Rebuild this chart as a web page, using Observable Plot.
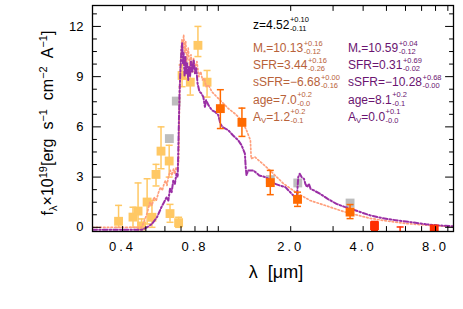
<!DOCTYPE html>
<html><head><meta charset="utf-8">
<script src="https://cdn.jsdelivr.net/npm/d3@7"></script>
<script src="https://cdn.jsdelivr.net/npm/@observablehq/plot@0.6"></script>
<style>body{margin:0;background:#fff} #chart svg{display:block}</style>
</head><body><div id="chart"></div><script>
// ---- axis ticks ----
const xTickValues = [0.3,0.4,0.5,0.6,0.7,0.8,0.9,1,2,3,4,5,6,7,8,9];
const xTickLabels = [0.4,0.8,2,4,8];
const yMajor = [0,3,6,9,12];
const yMinor = [0.75,1.5,2.25,3.75,4.5,5.25,6.75,7.5,8.25,9.75,10.5,11.25,12.75];

// ---- photometry ----
const yellowWave = [0.385,0.442,0.464,0.48,0.506,0.53,0.551,0.578,0.625,0.63,0.684,0.707,0.765,0.823,0.898];
const yellowFlux = [0.36,0.61,0.97,0.08,1.51,0.6,3.16,4.55,3.96,0.82,0.28,9.07,8.67,10.87,8.67];
const yellowLo   = [0.0,0.0,0.0,0.0,0.2,0.0,2.47,3.5,3.0,0.3,0.0,8.4,7.9,10.2,7.78];
const yellowHi   = [1.31,1.2,2.65,0.5,2.9,1.6,3.76,6.0,4.9,1.37,0.6,9.7,9.3,12.0,9.37];
const grayWave = [0.626,0.669,1.645,2.14,3.53];
const grayFlux = [5.3,7.54,2.85,2.65,1.45];
const orangeWave = [1.02,1.254,1.645,2.135,3.53];
const orangeFlux = [7.09,6.27,2.67,1.67,0.91];
const orangeLo   = [5.9,5.43,1.95,1.25,0.52];
const orangeHi   = [8.22,7.12,3.4,2.1,1.36];
const redWave = [4.46,5.7,7.9];
const redFlux = [0.1,-0.7,-0.1];
const redLo   = [-0.2,-1.2,-0.3];
const redHi   = [0.35,0.02,0.1];

// ---- model spectra ----
const salmonWave = [0.30,0.48,0.49,0.505,0.52,0.53,0.54,0.552,0.565,0.575,0.585,0.595,0.603,0.612,0.62,0.632,0.642,0.652,0.66,0.668,0.675,0.684,0.688,0.693,0.70,0.706,0.712,0.718,0.725,0.732,0.74,0.75,0.76,0.77,0.78,0.79,0.80,0.815,0.83,0.845,0.86,0.875,0.89,0.91,0.94,0.97,1.0,1.05,1.1,1.17,1.25,1.31,1.36,1.37,1.42,1.5,1.64,1.87,2.12,2.41,2.86,3.3,3.8,4.27,5.0,6.08,7.5,9.5];
const salmonFlux = [0.0,0.0,0.3,0.8,1.5,1.3,1.8,1.6,2.1,2.4,2.2,2.6,2.8,2.5,3.0,3.4,3.1,3.5,3.2,3.6,3.4,3.9,6.5,9.2,10.4,11.2,10.6,11.5,10.4,11.1,9.9,10.7,9.6,10.3,9.4,10.1,9.5,9.9,9.0,9.3,8.8,8.9,8.4,8.5,8.1,7.9,7.7,7.4,7.1,6.8,6.4,5.8,5.2,4.1,4.2,3.9,3.4,2.6,2.05,1.6,1.25,0.95,0.72,0.54,0.38,0.22,0.12,0.04];
const purpleWave = [0.30,0.48,0.505,0.53,0.556,0.568,0.58,0.595,0.61,0.62,0.63,0.64,0.65,0.66,0.67,0.678,0.684,0.690,0.697,0.703,0.708,0.713,0.718,0.724,0.73,0.736,0.742,0.75,0.756,0.763,0.77,0.78,0.79,0.80,0.81,0.82,0.835,0.85,0.866,0.88,0.89,0.91,0.94,0.97,1.0,1.02,1.04,1.07,1.10,1.15,1.21,1.25,1.29,1.30,1.31,1.33,1.4,1.48,1.57,1.65,1.72,1.80,1.90,2.02,2.12,2.15,2.18,2.22,2.27,2.30,2.34,2.38,2.42,2.50,2.65,2.85,3.1,3.35,3.64,3.95,4.27,4.8,5.3,5.9,6.6,7.3,8.1,9.5];
const purpleFlux = [-0.15,-0.15,0.0,0.2,0.6,0.9,1.2,1.5,1.8,1.6,2.3,2.1,2.8,2.6,3.2,3.0,5.5,8.0,9.6,10.6,11.0,9.8,10.4,9.0,10.2,9.2,9.8,8.8,9.6,9.0,9.9,9.3,10.0,9.2,9.5,8.6,8.1,8.0,7.8,7.2,7.6,7.3,7.0,6.9,6.7,6.2,6.0,5.9,5.8,5.5,5.2,4.9,4.4,3.6,3.1,3.4,3.4,3.1,3.0,2.8,2.6,2.5,2.4,2.0,1.7,3.0,3.2,3.0,2.9,2.6,2.4,2.6,2.3,2.2,2.0,1.7,1.4,1.22,1.06,0.88,0.72,0.55,0.45,0.36,0.27,0.18,0.12,0.06];

// ---- annotation texts ----
const zText = ["z=4.52", "+0.10", "-0.11"];
const leftNames  = [["M","*"],["SFR",""],["sSFR",""],["age",""],["A","V"]];
const leftVals   = ["10.13","3.44","−6.68","7.0","1.2"];
const leftUp     = ["+0.16","+0.16","+0.00","+0.2","+0.2"];
const leftDown   = ["-0.12","-0.26","-0.16","-0.0","-0.1"];
const rightVals  = ["10.59","0.31","−10.28","8.1","0.0"];
const rightUp    = ["+0.04","+0.69","+0.68","+0.2","+0.1"];
const rightDown  = ["-0.12","-0.02","-0.00","-0.1","-0.0"];

const zip = (w, f, lo, hi) => w.map((d, i) => ({w: d, f: f[i], lo: lo ? lo[i] : null, hi: hi ? hi[i] : null}));
const yellow = zip(yellowWave, yellowFlux, yellowLo, yellowHi);
const gray = zip(grayWave, grayFlux);
const orange = zip(orangeWave, orangeFlux, orangeLo, orangeHi);
const red = zip(redWave, redFlux, redLo, redHi);
const salmon = zip(salmonWave, salmonFlux);
const purple = zip(purpleWave, purpleFlux);

const cap = {draw(ctx) { ctx.moveTo(-3.5, 0); ctx.lineTo(3.5, 0); }};
const tickShape = {draw(ctx, l) { ctx.moveTo(0, 0); ctx.lineTo(0, -l); }};
const cYellow = "#ffc864", cGray = "#bdbdbd", cOrange = "#ff6a00", cRed = "#ff2e00";
const cSalmon = "#ff9f7c", cPurple = "#9a2fa5";

function errMarks(data, color) {
  return [
    Plot.ruleX(data, {x: "w", y1: "lo", y2: "hi", stroke: color, strokeWidth: 1.5, clip: true}),
    Plot.dot(data, {x: "w", y: "hi", symbol: cap, stroke: color, strokeWidth: 1.5, clip: true}),
    Plot.dot(data, {x: "w", y: "lo", symbol: cap, stroke: color, strokeWidth: 1.5, clip: true}),
    Plot.dot(data, {x: "w", y: "f", symbol: "square", r: 5, fill: color, clip: true})
  ];
}
const ticks = (vals, ch, anchor, rotate, len) =>
  Plot.vector(vals, {[ch]: d => d, frameAnchor: anchor, rotate, length: len, anchor: "start", shape: tickShape, stroke: "black", strokeWidth: 1});

const chart = Plot.plot({
  width: 463, height: 309,
  marginLeft: 92, marginRight: 10, marginTop: 5, marginBottom: 78,
  style: {fontFamily: "'Liberation Sans', Arial, sans-serif", fontSize: "13px", color: "black", background: "white"},
  x: {type: "log", domain: [0.3, 9.5], axis: null},
  y: {domain: [-0.25, 13.25], axis: null},
  marks: [
    Plot.dot(gray, {x: "w", y: "f", symbol: "square", r: 5, fill: cGray, clip: true}),
    ...errMarks(yellow, cYellow),
    Plot.line(salmon, {x: "w", y: "f", stroke: cSalmon, strokeWidth: 1.7, strokeDasharray: "1.5,2.2", clip: true}),
    Plot.line(purple, {x: "w", y: "f", stroke: cPurple, strokeWidth: 2, strokeDasharray: "4.5,2.2,1.5,2.2", clip: true}),
    ...errMarks(orange, cOrange),
    ...errMarks(red, cRed),
    ticks(xTickValues, "x", "bottom", 0, 5),
    ticks(xTickValues, "x", "top", 180, 5),
    ticks(yMinor, "y", "left", 90, 4),
    ticks(yMinor, "y", "right", -90, 4),
    ticks(yMajor, "y", "left", 90, 8),
    ticks(yMajor, "y", "right", -90, 8),
    Plot.text(xTickLabels, {x: d => d, frameAnchor: "bottom", dy: 19, text: d => d.toFixed(1), fontSize: 13}),
    Plot.text(yMajor, {y: d => d, frameAnchor: "left", dx: -9, textAnchor: "end", text: d => String(d), fontSize: 13}),
    Plot.frame({stroke: "black", strokeWidth: 1.3})
  ]
});
document.getElementById("chart").append(chart);

// ---- rich text annotations ----
const svg = d3.select(chart);
const g = svg.append("g").attr("font-family", "'Liberation Sans', Arial, sans-serif").attr("text-anchor", "start");

function rich(sel, parts, base, script, up, down) {
  let shift = 0;
  for (const [s, kind] of parts) {
    if (!s) continue;
    const target = kind === "sup" ? -up : kind === "sub" ? down : 0;
    sel.append("tspan").attr("dy", target - shift).attr("font-size", kind ? script : base).text(s);
    shift = target;
  }
}
function stacked(x, y, parts, sup, sub, color) {
  const t = g.append("text").attr("x", x).attr("y", y).attr("fill", color).attr("font-size", 12).attr("text-anchor", "start").style("white-space", "pre");
  rich(t, parts, 12, 8, 5, 2.5);
  const w = t.node().getComputedTextLength();
  g.append("text").attr("x", x + w + 0.5).attr("y", y - 6.5).attr("fill", color).attr("font-size", 7.5).attr("text-anchor", "start").text(sup);
  g.append("text").attr("x", x + w + 0.5).attr("y", y + 2).attr("fill", color).attr("font-size", 7.5).attr("text-anchor", "start").text(sub);
}

stacked(253, 28.5, [[zText[0]]], zText[1], zText[2], "black");
const rowY = [52, 69, 86, 103.5, 120.7];
leftNames.forEach(([n, s], i) => {
  stacked(253, rowY[i], [[n], [s, "sub"], ["=" + leftVals[i]]], leftUp[i], leftDown[i], "#b8623a");
  stacked(348, rowY[i], [[n], [s, "sub"], ["=" + rightVals[i]]], rightUp[i], rightDown[i], "#6a1470");
});

svg.selectAll('g[aria-label="text"] text').filter(function() { return /\./.test(this.textContent); }).style("letter-spacing", "3px");

// axis titles
const yt = g.append("text").attr("transform", "translate(53,123) rotate(-90)").attr("text-anchor", "middle").style("white-space", "pre");
rich(yt, [["f"],["λ","sub"],["×10"],["19","sup"],["[erg  s"],["−1","sup"],["  cm"],["−2","sup"],["  A"],["−1","sup"],["]"]], 16, 11, 6, 4);
g.append("text").attr("x", 276).attr("y", 278).attr("text-anchor", "middle").attr("font-size", 18).style("white-space", "pre").text("λ  [μm]");
</script></body></html>
